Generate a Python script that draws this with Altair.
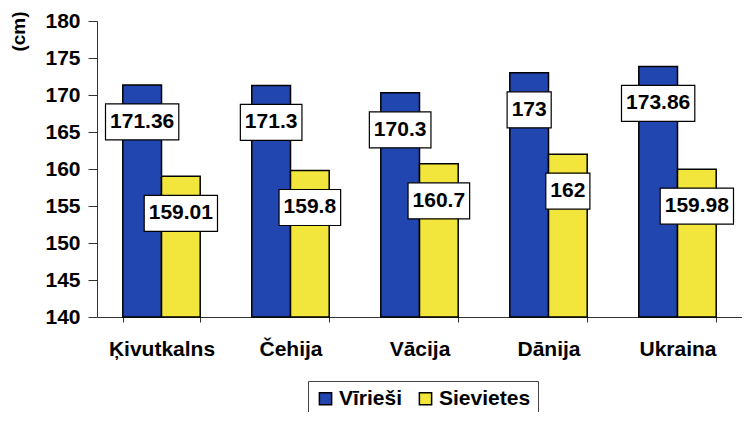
import altair as alt
import pandas as pd

categories = ["Ķivutkalns", "Čehija", "Vācija", "Dānija", "Ukraina"]
series = ["Vīrieši", "Sievietes"]
men = [171.36, 171.3, 170.3, 173, 173.86]
women = [159.01, 159.8, 160.7, 162, 159.98]
y_ticks = [140, 145, 150, 155, 160, 165, 170, 175, 180]
colors = ["#2146B0", "#F2E63C"]

rows = []
for c, m, w in zip(categories, men, women):
    rows.append({"cat": c, "series": series[0], "value": m})
    rows.append({"cat": c, "series": series[1], "value": w})
df = pd.DataFrame(rows)

FONT = "Liberation Sans"

x_scale = alt.Scale(paddingInner=0.4, paddingOuter=0.2)
xo_scale = alt.Scale(paddingInner=0, paddingOuter=0)
y_scale = alt.Scale(domain=[140, 180], zero=False, nice=False, clamp=True)

x_axis = alt.Axis(
    title=None,
    labelAngle=0,
    labelFont=FONT,
    labelFontSize=21,
    labelFontWeight="bold",
    labelColor="black",
    labelPadding=16,
    labelOverlap=False,
    tickSize=5,
    tickBand="extent",
    tickColor="#333",
    domainColor="#333",
    grid=False,
)
y_axis = alt.Axis(
    values=y_ticks,
    title="(cm)",
    titleFont=FONT,
    titleFontSize=19,
    titleFontWeight="bold",
    titleColor="black",
    titleX=-79,
    titleY=10,
    titleAlign="center",
    titleBaseline="middle",
    titleAngle=270,
    labelFont=FONT,
    labelFontSize=21,
    labelFontWeight="bold",
    labelColor="black",
    labelPadding=8,
    labelOverlap=False,
    tickSize=9,
    tickColor="#333",
    domainColor="#333",
    grid=False,
)

X = alt.X("cat:N", sort=categories, scale=x_scale, axis=x_axis)
XO = alt.XOffset("series:N", sort=series, scale=xo_scale)
Y = alt.Y("value:Q", scale=y_scale, axis=y_axis)

bars = alt.Chart(df).mark_bar(stroke="black", strokeWidth=1.5).encode(
    x=X,
    xOffset=XO,
    y=Y,
    color=alt.Color(
        "series:N",
        sort=series,
        scale=alt.Scale(domain=series, range=colors),
        legend=alt.Legend(
            title=None,
            orient="none",
            legendX=211,
            legendY=360,
            direction="horizontal",
            strokeColor="#444",
            fillColor="white",
            padding=7,
            symbolType="square",
            symbolSize=150,
            symbolStrokeColor="black",
            symbolStrokeWidth=1.5,
            symbolOpacity=1,
            labelFont=FONT,
            labelFontSize=21,
            labelFontWeight="bold",
            labelColor="black",
            labelOffset=3,
            columnPadding=12,
        ),
    ),
)

boxes = (
    alt.Chart(df)
    .transform_calculate(label="toString(datum.value)")
    .transform_calculate(
        w="length(datum.label) * 11.7 - (indexof(datum.label, '.') >= 0 ? 5.9 : 0) + 9"
    )
    .mark_bar(fill="white", stroke="black", strokeWidth=1.2, yOffset=19, y2Offset=55)
    .encode(
        x=X,
        xOffset=XO,
        y=Y,
        y2=alt.Y2("value:Q"),
        size=alt.Size("w:Q", scale=None, legend=None),
    )
)

labels = (
    alt.Chart(df)
    .transform_calculate(label="toString(datum.value)")
    .mark_text(
        dy=37,
        font=FONT,
        fontSize=21,
        fontWeight="bold",
        color="black",
        align="center",
        baseline="middle",
    )
    .encode(
        x=X,
        xOffset=XO,
        y=Y,
        text="label:N",
    )
)

chart = (
    alt.layer(bars, boxes, labels)
    .properties(
        width=645,
        height=296,
        padding={"left": 89, "top": 13, "right": 0, "bottom": 95},
        autosize=alt.AutoSizeParams(type="none"),
        background="white",
    )
    .configure_view(stroke=None)
)

chart.save("out.html", embed_options={"renderer": "svg", "actions": False})
